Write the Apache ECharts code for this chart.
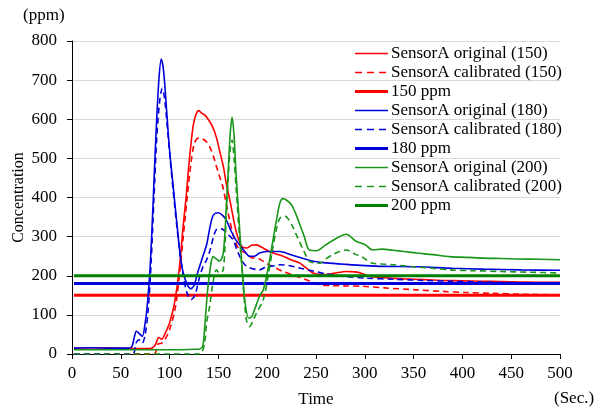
<!DOCTYPE html>
<html>
<head>
<meta charset="utf-8">
<script src="https://cdn.jsdelivr.net/npm/echarts@6/dist/echarts.min.js"></script>
<style>
  html, body { margin: 0; padding: 0; background: #fff; }
  #chart { width: 602px; height: 409px; }
</style>
</head>
<body>
<div id="chart"></div>
<script>
// Time axis ticks (seconds) and concentration ticks (ppm)
var xTicks = [0, 50, 100, 150, 200, 250, 300, 350, 400, 450, 500];
var yTicks = [0, 100, 200, 300, 400, 500, 600, 700, 800];

// Sensor readings as [time, ppm]
var orig150 = [[2,15],[20,16],[40,15],[60,14],[80,14],[85,22],[89,42],[92,38],[95,50],[100,80],[105,130],[110,220],[114,330],[117,403],[120,490],[124,581],[127,612],[130,622],[133,615],[136,611],[140,598],[144,581],[148,553],[151,522],[155,480],[158,437],[162,390],[165,351],[168,315],[172,284],[175,272],[179,271],[184,278],[189,279],[195,272],[202,262],[210,255],[218,248],[225,240],[233,233],[240,220],[247,207],[257,203],[268,206],[281,211],[290,210],[297,206],[305,198],[320,195],[340,192],[360,190],[380,188],[400,187],[420,186],[440,185],[460,184],[480,183],[500,183]];
var cal150 = [[2,0],[40,0],[84,0],[88,25],[92,28],[96,40],[101,70],[106,120],[110,200],[114,300],[118,400],[122,490],[125,535],[128,550],[131,552],[134.5,549],[138,542],[141,530],[145,505],[148,479],[151,455],[154.5,428],[158,385],[161.5,343],[165,305],[168,283],[172,266],[178,258],[184,246],[189,245],[194,240],[199,232],[205,224],[210,218],[216,211],[224,204],[232,197],[240,190],[247,183],[254,177],[265,175],[280,174],[298,173],[320,169],[353,164],[380,160],[404,157],[430,155],[460,153],[500,151]];
var ref150 = [[2,150],[500,150]];

var orig180 = [[2,15],[20,16],[40,15],[55,15],[61,18],[64,45],[66,58],[69,52],[72,45],[75,80],[77,121],[80,220],[83,380],[86,560],[89,700],[91.5,754],[94,720],[97,620],[100,520],[104,420],[108,320],[111,250],[114,207],[118,178],[121.6,167],[125,175],[129,210],[134,249],[138,280],[141,320],[144,351],[147,360],[150,361],[154,355],[158,343],[162,320],[167,295],[172,278],[177,262],[182,250],[187,250],[192,258],[200,262],[213,262],[225,253],[237,244],[247,237],[260,233],[281,229],[300,226],[320,224],[353,223],[390,219],[421,217],[460,215],[500,214]];
var cal180 = [[2,0],[30,0],[62,0],[66,30],[69,36],[72,28],[75,50],[78,110],[81,230],[84,400],[87,560],[90,650],[92.5,679],[95,650],[98,570],[102,460],[106,360],[110,270],[114,200],[118,155],[122,139],[126,150],[130,190],[134,222],[138,241],[142,270],[145,300],[148,318],[152,320],[155,318],[160,305],[165,292],[170,260],[175,235],[179,224],[185,218],[192,215],[200,224],[206,225],[213,228],[222,226],[233,220],[247,212],[260,205],[281,198],[301,194],[330,191],[360,188],[387,186],[420,184],[460,182],[500,181]];
var ref180 = [[2,180],[500,180]];

var orig200 = [[2,11],[40,11],[80,11],[110,11],[125,12],[131,13],[134,20],[136,70],[139,164],[142,225],[144.5,249],[148,243],[151,237],[155,258],[158,370],[160,463],[162,560],[164,605],[166,560],[168,463],[171,350],[173.5,249],[177,139],[181,92],[184,95],[187,113],[192,147],[196,164],[201,220],[206,292],[210,350],[213,386],[216,397],[220,393],[225,381],[229,360],[233,334],[238,300],[243,266],[250,264],[260,279],[271,296],[281,306],[291,288],[300,280],[308,266],[318,268],[329,265],[340,262],[353,258],[370,254],[387,249],[405,247],[421,245],[440,244],[455,243],[480,242],[500,241]];
var cal200 = [[2,0],[60,0],[100,0],[130,0],[133,3],[136,30],[138,80],[141,122],[144,175],[148,215],[151,207],[155,215],[158,350],[160,450],[162,520],[164,547],[166,500],[168,430],[171,320],[174.5,207],[178.6,88],[182,70],[185,82],[189,105],[196,139],[201,200],[206,275],[210,325],[213,347],[217,352],[220,350],[226,326],[231,298],[237,266],[243,237],[248,233],[254,232],[260,243],[267,254],[274,262],[281,266],[291,254],[296,250],[302,240],[308,232],[318,230],[329,228],[350,223],[370,219],[387,215],[410,213],[438,211],[470,209],[500,207]];
var ref200 = [[2,200],[500,200]];

var FONT = 'Liberation Serif';
var RED = '#ff0000', BLUE = '#0000dd', GREEN = '#1a961a', DKGREEN = '#008000';

// Legend swatches: a 33x14 box (pinned by two specks in its corners) holding a line
var BOX = 'M0,0h0.01v0.01h-0.01zM32.99,13.99h0.01v0.01h-0.01z';
var ICON_SOLID = 'path://' + BOX + 'M0,6.2h33v1.6h-33z';
var ICON_DASH = 'path://' + BOX + 'M0,6.2h7v1.6h-7zM12,6.2h7v1.6h-7zM24,6.2h7v1.6h-7z';
var ICON_THICK = 'path://' + BOX + 'M0,5.5h33v3h-33z';

function curve(name, data, color, dashed) {
  return {
    name: name, type: 'line', data: data, symbol: 'none', smooth: 0.3,
    lineStyle: { color: color, width: 1.6, type: dashed ? [6, 4] : 'solid' },
    itemStyle: { color: color }
  };
}
function refLine(name, data, color) {
  return {
    name: name, type: 'line', data: data, symbol: 'none',
    lineStyle: { color: color, width: 3 },
    itemStyle: { color: color }
  };
}

var series = [
  curve('SensorA original (150)', orig150, RED, false),
  curve('SensorA calibrated (150)', cal150, RED, true),
  refLine('150 ppm', ref150, RED),
  curve('SensorA original (180)', orig180, BLUE, false),
  curve('SensorA calibrated (180)', cal180, BLUE, true),
  refLine('180 ppm', ref180, BLUE),
  curve('SensorA original (200)', orig200, GREEN, false),
  curve('SensorA calibrated (200)', cal200, GREEN, true),
  refLine('200 ppm', ref200, DKGREEN)
];
var legendItems = series.map(function (s) {
  var icon = s.lineStyle.width > 2 ? ICON_THICK : (s.lineStyle.type === 'solid' ? ICON_SOLID : ICON_DASH);
  return { name: s.name, icon: icon, itemStyle: { color: s.lineStyle.color, borderWidth: 0 } };
});

var chart = echarts.init(document.getElementById('chart'));
chart.setOption({
  animation: false,
  backgroundColor: '#fff',
  textStyle: { fontFamily: FONT, color: '#000' },
  grid: { left: 72, right: 42, top: 41, bottom: 55, containLabel: false, outerBoundsMode: 'none' },
  legend: {
    orient: 'vertical', left: 350, top: 40,
    itemWidth: 33, itemHeight: 14, itemGap: 2,
    textStyle: { fontFamily: FONT, fontSize: 17, lineHeight: 17, color: '#000', padding: [0, 0, 0, -2] },
    data: legendItems
  },
  xAxis: {
    type: 'value', min: xTicks[0], max: xTicks[xTicks.length - 1], interval: 50,
    name: 'Time', nameLocation: 'middle', nameGap: 37,
    nameTextStyle: { fontFamily: FONT, fontSize: 17, color: '#000' },
    axisLine: { lineStyle: { color: '#000', width: 1 } },
    axisTick: { show: true, inside: false, length: 5, lineStyle: { color: '#000' } },
    axisLabel: { fontFamily: FONT, fontSize: 17, color: '#000', margin: 11 },
    splitLine: { show: false }
  },
  yAxis: {
    type: 'value', min: yTicks[0], max: yTicks[yTicks.length - 1], interval: 100,
    name: 'Concentration', nameLocation: 'middle', nameGap: 45, nameRotate: 90,
    nameMoveOverlap: false,
    nameTextStyle: { fontFamily: FONT, fontSize: 16, color: '#000' },
    axisLine: { show: true, lineStyle: { color: '#000', width: 1 } },
    axisTick: { show: true, inside: false, length: 5, lineStyle: { color: '#000' } },
    axisLabel: { fontFamily: FONT, fontSize: 17, color: '#000', margin: 15 },
    splitLine: { show: true, lineStyle: { color: '#d9d9d9', width: 1 } }
  },
  graphic: [
    { type: 'text', left: 23, top: 7, style: { text: '(ppm)', font: '17px "Liberation Serif"', fill: '#000' } },
    { type: 'text', left: 554, top: 390, style: { text: '(Sec.)', font: '17px "Liberation Serif"', fill: '#000' } }
  ],
  series: series
});
</script>
</body>
</html>
